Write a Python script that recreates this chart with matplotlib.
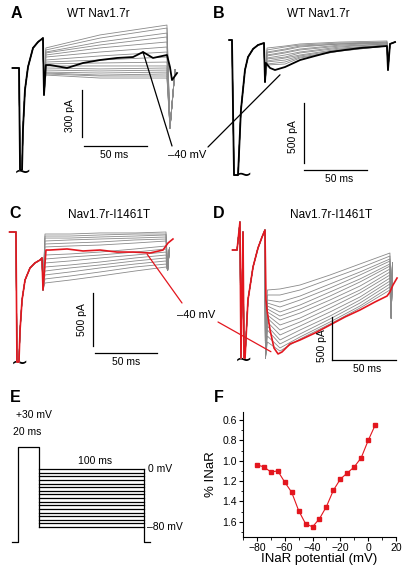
import numpy as np
import matplotlib
matplotlib.use('Agg')
import matplotlib.pyplot as plt
from matplotlib.patches import ConnectionPatch
from matplotlib.ticker import AutoMinorLocator, FormatStrFormatter

plt.rcParams['font.family'] = ['Liberation Sans', 'DejaVu Sans']

W, H = 406, 568
GRAY = '#8a8a8a'
RED = '#e3161e'

# ---- panel A: WT Nav1.7r, slow scale (ms, pA)
A_pre_t = [-2, 3.2, 4.0, 5.6, 6.3, 7.9, 10.3, 14.3, 18.3, 22.2, 23.0]
A_pre_i = [0, 0, -651, -651, -396, -140, 6, 128, 166, 191, -172]
A_black_t = [24.5, 27.8, 41.3, 54.0, 67.5, 81.0, 93.7, 101.6, 109.5, 120.6, 123.0, 124.6, 128.6]
A_black_i = [19, 19, 0, 32, 51, 64, 70, 102, 64, 83, 6, -77, -32]
A_gray_t = [24.5, 67.5, 120.6]
A_gray_i = [[128, 211, 274], [115, 191, 255], [102, 166, 223], [96, 147, 198],
            [83, 128, 166], [70, 102, 134], [51, 77, 102], [38, 51, 70],
            [26, 32, 38], [13, 13, 13], [0, -6, 0], [-13, -19, -13],
            [-26, -32, -26], [-32, -45, -38], [-38, -51, -51], [-45, -64, -64]]
A_end_t = [123.0, 127.0]
A_end_i = [-383, -13]

# ---- panel B: WT Nav1.7r
B_pre_t = [-3, -0.8, 0.8, 3.2, 4.0, 6.3, 7.9, 9.5, 11.9, 15.9, 19.8, 24.6, 25.4]
B_pre_i = [0, 0, -1125, -1125, -1125, -583, -417, -250, -142, -75, -42, -25, -350]
B_black_t = [26.2, 29.4, 33.3, 41.3, 53.2, 65.1, 77.0, 88.9, 100.8, 112.7, 122.2]
B_black_i = [-192, -233, -250, -225, -167, -133, -100, -83, -67, -58, -50]
B_gray_t = [27.0, 41.3, 53.2, 85.0, 122.2]
B_gray_i = [[-67, -50, -33, -17, -8], [-83, -58, -42, -25, -17], [-100, -75, -50, -33, -17],
            [-108, -83, -58, -33, -25], [-125, -100, -75, -42, -25], [-133, -108, -83, -50, -33],
            [-150, -125, -100, -58, -33], [-158, -142, -108, -67, -42], [-175, -150, -125, -75, -42],
            [-183, -167, -133, -83, -50], [-200, -183, -142, -92, -50], [-208, -200, -150, -92, -50]]
B_end_t = [123.0, 124.6, 128.6]
B_end_i = [-250, -33, -17]

# ---- panel C: Nav1.7r-I1461T
C_pre_t = [-2, 3.2, 4.0, 5.6, 6.5, 8.1, 10.5, 14.5, 18.5, 22.6, 24.2, 25.0]
C_pre_i = [0, 0, -1226, -1226, -924, -641, -453, -340, -292, -264, -245, -547]
C_red_t = [27.4, 30.6, 44.4, 57.3, 71.0, 84.7, 97.6, 111.3, 121.8, 125.8, 129.8]
C_red_i = [-170, -170, -160, -179, -170, -189, -189, -198, -170, -104, -66]
C_gray_t = [26.6, 46.8, 71.0, 99.2, 124.2]
C_gray_i = [[-19, -19, -9, -9, 0], [-38, -38, -28, -19, -19], [-57, -57, -47, -38, -28],
            [-85, -75, -66, -57, -47], [-113, -104, -94, -75, -66], [-141, -132, -123, -104, -85],
            [-217, -207, -189, -160, -132], [-255, -236, -217, -189, -160],
            [-292, -273, -245, -217, -189], [-330, -311, -283, -245, -217],
            [-368, -339, -311, -273, -245], [-405, -377, -339, -302, -273],
            [-443, -415, -377, -330, -302], [-481, -453, -415, -368, -330]]
C_end_t = [125.5, 127.0]
C_end_i = [-360, -150]

# ---- panel D: Nav1.7r-I1461T
D_pre_t = [-2, 1.6, 3.9, 4.7, 6.3, 7.1, 7.9, 10.2, 14.2, 18.1, 21.3, 23.6]
D_pre_i = [0, 0, 325, -1253, 209, -1253, -1253, -580, -197, 23, 151, 232]
D_red_t = [24.4, 25.2, 27.6, 30.7, 33.9, 37.0, 43.3, 51.2, 63.0, 74.8, 86.6, 98.4,
           110.2, 119.7, 122.0, 124.4, 127.6]
D_red_i = [-580, -696, -928, -1137, -1206, -1183, -1090, -1044, -963, -870, -777, -696,
           -603, -534, -487, -406, -325]
D_spike_t = [24.0]
D_spike_i = [-1253]
D_gray_t = [25.5, 35.4, 51.2, 74.8, 98.4, 122.0]
D_gray_i = [[-464, -452, -406, -290, -162, -35], [-522, -522, -464, -336, -209, -70],
            [-580, -603, -534, -394, -255, -104], [-615, -661, -580, -441, -290, -128],
            [-650, -719, -638, -487, -336, -162], [-684, -766, -684, -534, -371, -186],
            [-719, -812, -731, -580, -418, -220], [-754, -870, -789, -626, -464, -255],
            [-789, -928, -835, -673, -499, -290], [-835, -986, -882, -719, -545, -325],
            [-882, -1044, -928, -766, -580, -360], [-928, -1090, -974, -800, -615, -394],
            [-998, -1137, -1009, -835, -650, -429], [-1067, -1172, -1032, -858, -673, -464]]
D_end_t = [123.0, 124.0]
D_end_i = [-790, -150]

# ---- panel E: voltage protocol (ms, mV)
E_hold = -100
E_pulse = 30
E_pulse_ms = 20
E_step_ms = 100
E_steps = [0, -5, -10, -15, -20, -25, -30, -35, -40, -45, -50, -55, -60, -65, -70, -75, -80]

# ---- panel F
F_v = [-80, -75, -70, -65, -60, -55, -50, -45, -40, -35, -30, -25, -20, -15, -10, -5, 0, 5]
F_inar = [1.04, 1.06, 1.11, 1.10, 1.21, 1.31, 1.49, 1.62, 1.65, 1.57, 1.45, 1.29,
          1.18, 1.12, 1.06, 0.97, 0.80, 0.65]


fig = plt.figure(figsize=(W / 100, H / 100), dpi=100)

ov = fig.add_axes([0, 0, 1, 1])
ov.set_xlim(0, W)
ov.set_ylim(H, 0)
ov.axis('off')


def trace_axes(x0, sx, y0, sy):
    # axes over the whole figure, scaled so data units land on the panel
    ax = fig.add_axes([0, 0, 1, 1])
    ax.set_xlim(-x0 / sx, (W - x0) / sx)
    ax.set_ylim((y0 - H) / sy, y0 / sy)
    ax.axis('off')
    ax.patch.set_alpha(0)
    return ax


def draw_panel(ax, pre_t, pre_i, gt, gi, end_t, end_i, main_t, main_i, main_col, main_lw,
               spike_t=[], spike_i=[]):
    for row in gi:
        ax.plot(pre_t + spike_t + gt + end_t, pre_i + spike_i + row + end_i, color=GRAY, lw=0.6)
    ax.plot(pre_t + main_t, pre_i + main_i, color=main_col, lw=main_lw)


def scalebar(ax, t0, i0, tlen, ilen, xoff=0, yoff=0):
    ax.plot([t0, t0], [i0 + yoff, i0 + yoff + ilen], color='k', lw=0.9)
    ax.plot([t0 + xoff, t0 + xoff + tlen], [i0, i0], color='k', lw=0.9)


axA = trace_axes(15, 1.26, 68, 1 / 6.38)
draw_panel(axA, A_pre_t, A_pre_i, A_gray_t, A_gray_i, A_end_t, A_end_i,
           A_black_t, A_black_i, 'k', 1.3)
scalebar(axA, 53.2, -498, 50, 300, xoff=1.6, yoff=58)

axB = trace_axes(233, 1.26, 40, 1 / 8.33)
draw_panel(axB, B_pre_t, B_pre_i, B_gray_t, B_gray_i, B_end_t, B_end_i,
           B_black_t + B_end_t, B_black_i + B_end_i, 'k', 1.3)
scalebar(axB, 56.3, -1083, 50, 500, yoff=58)

axC = trace_axes(12, 1.24, 232, 1 / 9.43)
draw_panel(axC, C_pre_t, C_pre_i, C_gray_t, C_gray_i, C_end_t, C_end_i,
           C_red_t, C_red_i, RED, 1.2)
scalebar(axC, 65.3, -1141, 50, 500, xoff=1.6, yoff=66)

axD = trace_axes(235, 1.27, 250, 1 / 11.6)
draw_panel(axD, D_pre_t, D_pre_i, D_gray_t, D_gray_i, D_end_t, D_end_i,
           D_red_t, D_red_i, RED, 1.2, D_spike_t, D_spike_i)
scalebar(axD, 76.4, -1276, 50, 500)

# panel E protocol
axE = trace_axes(18, 1.05, 469, 0.725)
t_end = E_pulse_ms + E_step_ms
axE.plot([-6, 0, 0, E_pulse_ms, E_pulse_ms], [E_hold, E_hold, E_pulse, E_pulse, E_steps[-1]],
         color='k', lw=0.9)
axE.plot([t_end, t_end, t_end + 6], [E_steps[0], E_hold, E_hold], color='k', lw=0.9)
for v in E_steps:
    axE.plot([E_pulse_ms, t_end], [v, v], color='k', lw=0.9)

# panel F
axF = fig.add_axes([243 / W, (H - 537) / H, (396 - 243) / W, (537 - 412) / H])
axF.patch.set_alpha(0)
axF.plot(F_v, F_inar, color=RED, lw=0.8, marker='s', ms=3.4, mec=RED, mfc=RED)
axF.set_xlim(-90, 20)
axF.set_ylim(1.75, 0.52)
axF.set_xticks([-80, -60, -40, -20, 0, 20])
axF.set_yticks([0.6, 0.8, 1.0, 1.2, 1.4, 1.6])
axF.yaxis.set_major_formatter(FormatStrFormatter('%.1f'))
axF.xaxis.set_minor_locator(AutoMinorLocator(2))
axF.yaxis.set_minor_locator(AutoMinorLocator(2))
axF.tick_params(which='major', length=3, width=0.8, labelsize=7.5, pad=1.5)
axF.tick_params(which='minor', length=1.8, width=0.6)
for s in ['top', 'right']:
    axF.spines[s].set_visible(False)
for s in ['left', 'bottom']:
    axF.spines[s].set_linewidth(0.8)
axF.set_xlabel('INaR potential (mV)', fontsize=9.5, labelpad=0)
axF.set_ylabel('% INaR', fontsize=9.5, labelpad=4)

# texts (pixel positions)
def label(x, y, s, **kw):
    ov.text(x, y, s, ha='center', va='center', **kw)

for x, y, s in [(16, 13, 'A'), (219, 13, 'B'), (15, 213, 'C'), (219, 213, 'D'),
                (15, 398, 'E'), (219, 397, 'F')]:
    label(x, y, s, fontsize=11.5, fontweight='heavy')
label(98, 14, 'WT Nav1.7r', fontsize=8.5)
label(318, 14, 'WT Nav1.7r', fontsize=8.5)
label(109, 215, 'Nav1.7r-I1461T', fontsize=8.5)
label(331, 215, 'Nav1.7r-I1461T', fontsize=8.5)

label(70, 116, '300 pA', fontsize=7.5, rotation=90)
label(114, 155, '50 ms', fontsize=7.5)
label(293, 137, '500 pA', fontsize=7.5, rotation=90)
label(339, 179, '50 ms', fontsize=7.5)
label(82, 320, '500 pA', fontsize=7.5, rotation=90)
label(126, 362, '50 ms', fontsize=7.5)
label(322, 346, '500 pA', fontsize=7.5, rotation=90)
label(367, 369, '50 ms', fontsize=7.5)

label(187, 155, '\u201340 mV', fontsize=8)
label(196, 315, '\u201340 mV', fontsize=8)

label(34, 415, '+30 mV', fontsize=7.5)
label(27, 432, '20 ms', fontsize=7.5)
label(95, 461, '100 ms', fontsize=7.5)
ov.text(148, 469, '0 mV', ha='left', va='center', fontsize=7.5)
ov.text(147, 527, '\u201380 mV', ha='left', va='center', fontsize=7.5)

# break marks under the clipped transients
for x, y in [(23, 172), (244, 175), (20, 363), (244, 360)]:
    label(x, y, '\u223c', fontsize=15, family='DejaVu Sans')

# leader lines from the -40 mV labels
for xy_px, ax, xy_data, col in [((172, 146), axA, (101.6, 102), 'k'),
                                ((208, 147), axB, (37.3, -290), 'k'),
                                ((182, 303), axC, (109, -210), RED),
                                ((218, 322), axD, (28.3, -1180), RED)]:
    con = ConnectionPatch(xyA=xy_px, coordsA=ov.transData, xyB=xy_data,
                          coordsB=ax.transData, color=col, lw=0.9)
    fig.add_artist(con)

fig.savefig('out.png', dpi=100)
